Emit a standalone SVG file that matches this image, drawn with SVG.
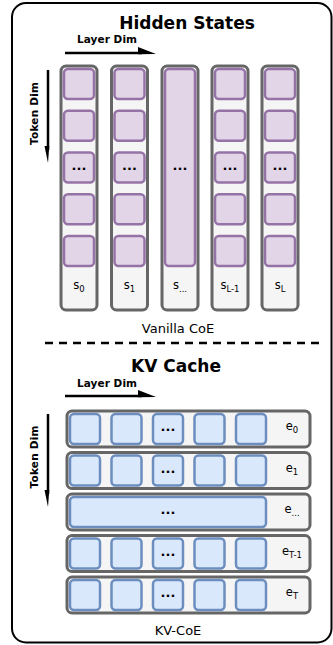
<svg xmlns="http://www.w3.org/2000/svg" width="333" height="645" viewBox="0 0 333 645">
<style>
.frame{fill:#ffffff;stroke:#000;stroke-width:2}
.col{fill:#f5f5f5;stroke:#666666;stroke-width:3}
.ps{fill:#e1d5e7;stroke:#9673a6;stroke-width:2.5}
.bs{fill:#dae8fc;stroke:#6c8ebf;stroke-width:2.5}
.title{font-family:"DejaVu Sans",Verdana,sans-serif;font-weight:bold;font-size:17px;fill:#000;text-anchor:middle}
.axis{font-family:"DejaVu Sans",sans-serif;font-weight:bold;font-size:10.5px;fill:#000}
.lbl{font-family:"DejaVu Sans",Verdana,sans-serif;font-size:11.5px;fill:#000;text-anchor:middle}
.sub{font-size:8.5px}
.cap{font-family:"DejaVu Sans",Verdana,sans-serif;font-size:13px;fill:#000;text-anchor:middle}
.dots{font-family:"DejaVu Sans",sans-serif;font-weight:bold;font-size:13px;fill:#000;text-anchor:middle}
.ax{stroke:#000;stroke-width:2.5;fill:none}
</style>
<rect class="frame" x="12" y="3" width="319.5" height="639.5" rx="14"/>

<g id="title-hidden"><text class="title" x="187" y="29">Hidden States</text></g>
<g id="layer-dim-1">
<text class="axis" x="77" y="43" textLength="60" lengthAdjust="spacing">Layer Dim</text>
</g>
<g id="token-dim-1">
<text class="axis" transform="translate(38,113.5) rotate(-90)" x="-31.5" textLength="63" lengthAdjust="spacing">Token Dim</text>
</g>

<g id="connectors">
<line class="ax" x1="65" y1="53" x2="142" y2="53"/>
<polygon points="138,47 156,54 138,54.2" fill="#000"/>
<line class="ax" x1="48" y1="70" x2="48" y2="150"/>
<polygon points="44.5,146 49.3,146 48,163" fill="#000"/>
<line class="ax" x1="65" y1="396" x2="142" y2="396"/>
<polygon points="138,390 156,397 138,397.2" fill="#000"/>
<line class="ax" x1="48" y1="414" x2="48" y2="494"/>
<polygon points="44.5,490 49.3,490 48,507" fill="#000"/>
<line x1="45" y1="343" x2="322" y2="343" stroke="#000" stroke-width="2.5" stroke-dasharray="8,6"/>
</g>

<g id="col-s0">
<rect class="col" x="61" y="66" width="36" height="244" rx="5"/>
<rect class="ps" x="64" y="69" width="30" height="30" rx="4"/>
<rect class="ps" x="64" y="110.75" width="30" height="30" rx="4"/>
<rect class="ps" x="64" y="152.5" width="30" height="30" rx="4"/>
<rect class="ps" x="64" y="194.25" width="30" height="30" rx="4"/>
<rect class="ps" x="64" y="236" width="30" height="30" rx="4"/>
<text class="dots" x="79" y="170">...</text>
<text class="lbl" x="79" y="289">s<tspan class="sub" dy="3">0</tspan></text>
</g>
<g id="col-s1">
<rect class="col" x="111.5" y="66" width="36" height="244" rx="5"/>
<rect class="ps" x="114.5" y="69" width="30" height="30" rx="4"/>
<rect class="ps" x="114.5" y="110.75" width="30" height="30" rx="4"/>
<rect class="ps" x="114.5" y="152.5" width="30" height="30" rx="4"/>
<rect class="ps" x="114.5" y="194.25" width="30" height="30" rx="4"/>
<rect class="ps" x="114.5" y="236" width="30" height="30" rx="4"/>
<text class="dots" x="129.5" y="170">...</text>
<text class="lbl" x="129.5" y="289">s<tspan class="sub" dy="3">1</tspan></text>
</g>
<g id="col-smid">
<rect class="col" x="162" y="66" width="36" height="244" rx="5"/>
<rect class="ps" x="165" y="69" width="30" height="197" rx="4"/>
<text class="dots" x="180" y="170">...</text>
<text class="lbl" x="180" y="289">s<tspan class="sub" dy="3">...</tspan></text>
</g>
<g id="col-sL1">
<rect class="col" x="212" y="66" width="36" height="244" rx="5"/>
<rect class="ps" x="215" y="69" width="30" height="30" rx="4"/>
<rect class="ps" x="215" y="110.75" width="30" height="30" rx="4"/>
<rect class="ps" x="215" y="152.5" width="30" height="30" rx="4"/>
<rect class="ps" x="215" y="194.25" width="30" height="30" rx="4"/>
<rect class="ps" x="215" y="236" width="30" height="30" rx="4"/>
<text class="dots" x="230" y="170">...</text>
<text class="lbl" x="230" y="289">s<tspan class="sub" dy="3">L-1</tspan></text>
</g>
<g id="col-sL">
<rect class="col" x="262" y="66" width="36" height="244" rx="5"/>
<rect class="ps" x="265" y="69" width="30" height="30" rx="4"/>
<rect class="ps" x="265" y="110.75" width="30" height="30" rx="4"/>
<rect class="ps" x="265" y="152.5" width="30" height="30" rx="4"/>
<rect class="ps" x="265" y="194.25" width="30" height="30" rx="4"/>
<rect class="ps" x="265" y="236" width="30" height="30" rx="4"/>
<text class="dots" x="280" y="170">...</text>
<text class="lbl" x="280" y="289">s<tspan class="sub" dy="3">L</tspan></text>
</g>
<g id="cap-vanilla"><text class="cap" x="178" y="333">Vanilla CoE</text></g>

<g id="title-kv"><text class="title" x="176" y="372">KV Cache</text></g>
<g id="layer-dim-2"><text class="axis" x="77" y="387" textLength="60" lengthAdjust="spacing">Layer Dim</text></g>
<g id="token-dim-2"><text class="axis" transform="translate(38,457) rotate(-90)" x="-31.5" textLength="63" lengthAdjust="spacing">Token Dim</text></g>

<g id="row-e0">
<rect class="col" x="67" y="411" width="243" height="36" rx="5"/>
<rect class="bs" x="70" y="414" width="30" height="30" rx="4"/>
<rect class="bs" x="111.5" y="414" width="30" height="30" rx="4"/>
<rect class="bs" x="153" y="414" width="30" height="30" rx="4"/>
<rect class="bs" x="194.5" y="414" width="30" height="30" rx="4"/>
<rect class="bs" x="236" y="414" width="30" height="30" rx="4"/>
<text class="dots" x="168" y="431">...</text>
<text class="lbl" x="292" y="430">e<tspan class="sub" dy="3">0</tspan></text>
</g>
<g id="row-e1">
<rect class="col" x="67" y="452.5" width="243" height="36" rx="5"/>
<rect class="bs" x="70" y="455.5" width="30" height="30" rx="4"/>
<rect class="bs" x="111.5" y="455.5" width="30" height="30" rx="4"/>
<rect class="bs" x="153" y="455.5" width="30" height="30" rx="4"/>
<rect class="bs" x="194.5" y="455.5" width="30" height="30" rx="4"/>
<rect class="bs" x="236" y="455.5" width="30" height="30" rx="4"/>
<text class="dots" x="168" y="472.5">...</text>
<text class="lbl" x="292" y="471.5">e<tspan class="sub" dy="3">1</tspan></text>
</g>
<g id="row-emid">
<rect class="col" x="67" y="494" width="243" height="36" rx="5"/>
<rect class="bs" x="70" y="497" width="196" height="30" rx="4"/>
<text class="dots" x="168" y="514">...</text>
<text class="lbl" x="292" y="513">e<tspan class="sub" dy="3">...</tspan></text>
</g>
<g id="row-eT1">
<rect class="col" x="67" y="535.5" width="243" height="36" rx="5"/>
<rect class="bs" x="70" y="538.5" width="30" height="30" rx="4"/>
<rect class="bs" x="111.5" y="538.5" width="30" height="30" rx="4"/>
<rect class="bs" x="153" y="538.5" width="30" height="30" rx="4"/>
<rect class="bs" x="194.5" y="538.5" width="30" height="30" rx="4"/>
<rect class="bs" x="236" y="538.5" width="30" height="30" rx="4"/>
<text class="dots" x="168" y="555.5">...</text>
<text class="lbl" x="292" y="554.5">e<tspan class="sub" dy="3">T-1</tspan></text>
</g>
<g id="row-eT">
<rect class="col" x="67" y="577" width="243" height="36" rx="5"/>
<rect class="bs" x="70" y="580" width="30" height="30" rx="4"/>
<rect class="bs" x="111.5" y="580" width="30" height="30" rx="4"/>
<rect class="bs" x="153" y="580" width="30" height="30" rx="4"/>
<rect class="bs" x="194.5" y="580" width="30" height="30" rx="4"/>
<rect class="bs" x="236" y="580" width="30" height="30" rx="4"/>
<text class="dots" x="168" y="597">...</text>
<text class="lbl" x="292" y="596">e<tspan class="sub" dy="3">T</tspan></text>
</g>
<g id="cap-kv"><text class="cap" x="178" y="635">KV-CoE</text></g>
</svg>
